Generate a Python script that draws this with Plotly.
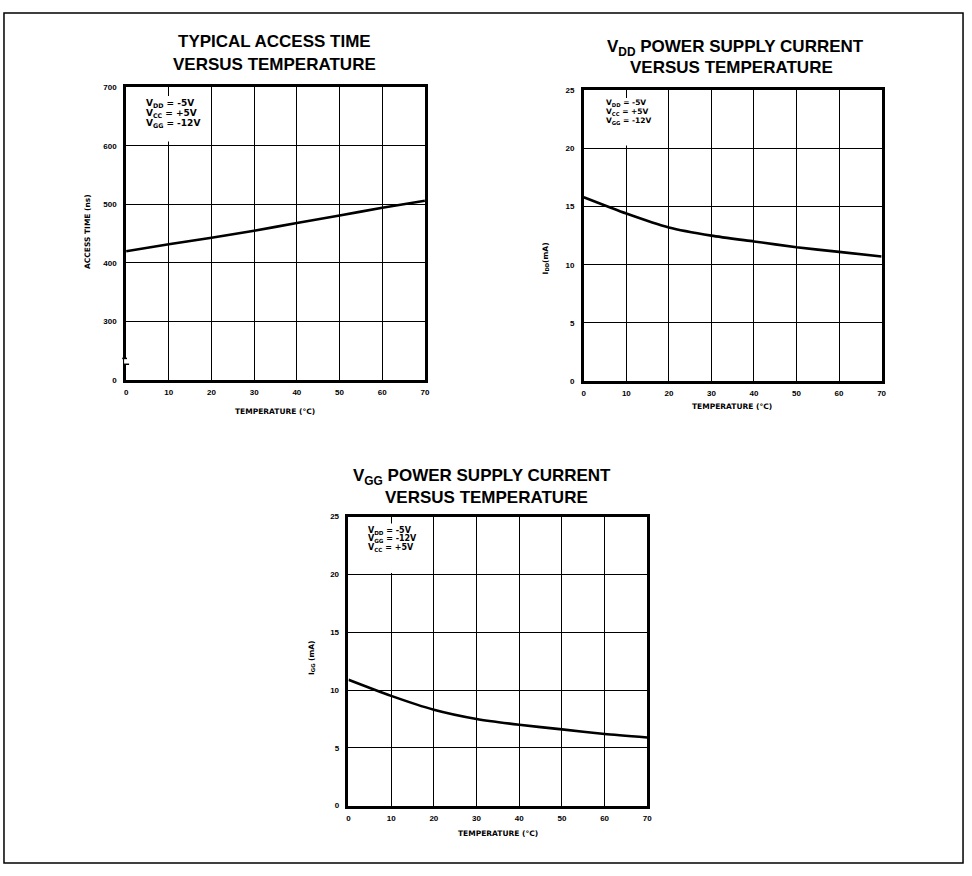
import plotly.graph_objects as go

W, H = 972, 876

# ---- data ----
temperature = [0, 10, 20, 30, 40, 50, 60, 70]
access_time_ns = [420, 432, 443, 455, 468, 481, 494, 506]
idd_ma = [15.8, 14.4, 13.2, 12.5, 12.0, 11.5, 11.1, 10.7]
igg_ma = [10.9, 9.5, 8.3, 7.5, 7.0, 6.6, 6.2, 5.9]

x_ticks = [0, 10, 20, 30, 40, 50, 60, 70]
# access-time axis has a break: the "0" label sits one division below 300
access_tickvals = [200, 300, 400, 500, 600, 700]
access_ticktext = ["0", "300", "400", "500", "600", "700"]
current_ticks = [0, 5, 10, 15, 20, 25]

TITLE_FONT = "Liberation Sans, Arial, sans-serif"
SMALL_FONT = "DejaVu Sans, Verdana, sans-serif"


def px(x):
    return x / W


def py(y):
    return 1 - y / H


fig = go.Figure()

line_style = dict(color="black", width=2.6, shape="spline", smoothing=0.6)
fig.add_trace(go.Scatter(x=temperature, y=access_time_ns, mode="lines",
                         line=line_style, xaxis="x", yaxis="y", hoverinfo="skip"))
fig.add_trace(go.Scatter(x=temperature, y=idd_ma, mode="lines",
                         line=line_style, xaxis="x2", yaxis="y2", hoverinfo="skip"))
fig.add_trace(go.Scatter(x=temperature, y=igg_ma, mode="lines",
                         line=line_style, xaxis="x3", yaxis="y3", hoverinfo="skip"))

tickfont = dict(family=TITLE_FONT, size=8, color="black", weight="bold")
CLEAR = "rgba(0,0,0,0)"


def xaxis(domain, anchor):
    return dict(domain=domain, anchor=anchor, range=[0, 70], tickvals=x_ticks,
                showgrid=True, gridcolor="black", gridwidth=1.4,
                showline=True, linecolor="black", linewidth=2.6, mirror=True,
                zeroline=False, ticks="outside", ticklen=3, tickcolor=CLEAR,
                tickfont=tickfont, fixedrange=True)


def yaxis(domain, anchor, rng, tickvals, ticktext=None):
    d = dict(domain=domain, anchor=anchor, range=rng, tickvals=tickvals,
             showgrid=True, gridcolor="black", gridwidth=1.4,
             showline=True, linecolor="black", linewidth=2.6, mirror=True,
             zeroline=False, ticks="outside", ticklen=5, tickcolor=CLEAR,
             tickfont=tickfont, fixedrange=True)
    if ticktext is not None:
        d["ticktext"] = ticktext
    return d


fig.update_layout(
    width=W, height=H,
    margin=dict(l=0, r=0, t=0, b=0),
    paper_bgcolor="white", plot_bgcolor="white",
    showlegend=False,
    xaxis=xaxis([px(125), px(426)], "y"),
    yaxis=yaxis([py(380), py(84)], "x", [200, 700], access_tickvals, access_ticktext),
    xaxis2=xaxis([px(586), px(886)], "y2"),
    yaxis2=yaxis([py(381), py(87)], "x2", [0, 25], current_ticks),
    xaxis3=xaxis([px(349), px(650)], "y3"),
    yaxis3=yaxis([py(810), py(518)], "x3", [0, 25], current_ticks),
)

annotations = []


def text(x, y, s, size, family=SMALL_FONT, angle=0, xanchor="center"):
    annotations.append(dict(
        x=px(x), y=py(y), xref="paper", yref="paper", text=s, showarrow=False,
        xanchor=xanchor, yanchor="middle", textangle=angle,
        font=dict(family=family, size=size, color="black", weight="bold")))


# chart titles
text(274, 38, "TYPICAL ACCESS TIME", 17, TITLE_FONT)
text(274, 61, "VERSUS TEMPERATURE", 17, TITLE_FONT)
text(739, 44, "V<sub>DD</sub> POWER SUPPLY CURRENT", 17, TITLE_FONT)
text(735, 64, "VERSUS TEMPERATURE", 17, TITLE_FONT)
text(483, 478, "V<sub>GG</sub> POWER SUPPLY CURRENT", 17, TITLE_FONT)
text(488, 499, "VERSUS TEMPERATURE", 17, TITLE_FONT)

# axis titles
text(275, 412, "TEMPERATURE (°C)", 7.5)
text(735, 407, "TEMPERATURE (°C)", 7.5)
text(500, 838, "TEMPERATURE (°C)", 7.5)
text(86, 230, "ACCESS TIME (ns)", 7.5, angle=-90)
text(548, 257, "I<sub>DD</sub>(mA)", 7.5, angle=-90)
text(312, 660, "I<sub>GG</sub> (mA)", 7.5, angle=-90)

# supply conditions, one line per annotation for tight spacing
conditions = [
    (143, [101, 111, 121], 9,
     ["V<sub>DD</sub> = -5V", "V<sub>CC</sub> = +5V", "V<sub>GG</sub> = -12V"]),
    (606, [100, 109, 118], 7.5,
     ["V<sub>DD</sub> = -5V", "V<sub>CC</sub> = +5V", "V<sub>GG</sub> = -12V"]),
    (367, [532, 541, 550], 8,
     ["V<sub>DD</sub> = -5V", "V<sub>GG</sub> = -12V", "V<sub>CC</sub> = +5V"]),
]
for x0, ys, size, lines in conditions:
    for y, s in zip(ys, lines):
        text(x0, y, s, size, xanchor="left")

fig.update_layout(annotations=annotations)

shapes = [
    # outer frame
    dict(type="rect", xref="paper", yref="paper",
         x0=px(2), x1=px(968), y0=py(868), y1=py(9),
         line=dict(color="black", width=1.5), fillcolor=CLEAR),
    # blank panels behind the supply-condition notes
    dict(type="rect", xref="paper", yref="paper", layer="above",
         x0=px(140), x1=px(200), y0=py(139), y1=py(93),
         line=dict(width=0), fillcolor="white"),
    dict(type="rect", xref="paper", yref="paper", layer="above",
         x0=px(603), x1=px(650), y0=py(143), y1=py(95),
         line=dict(width=0), fillcolor="white"),
    dict(type="rect", xref="paper", yref="paper", layer="above",
         x0=px(364), x1=px(420), y0=py(575), y1=py(525),
         line=dict(width=0), fillcolor="white"),
    # axis break on the access-time scale
    dict(type="line", xref="x domain", yref="y", x0=0, x1=0, y0=227, y1=237,
         line=dict(color="white", width=4)),
    dict(type="line", xref="x domain", yref="y", x0=-0.013, x1=0.003, y0=237, y1=237,
         line=dict(color="black", width=1.5)),
    dict(type="line", xref="x domain", yref="y", x0=-0.01, x1=0.01, y0=227, y1=227,
         line=dict(color="black", width=1.5)),
]
fig.update_layout(shapes=shapes)

fig.write_html("out.html")
